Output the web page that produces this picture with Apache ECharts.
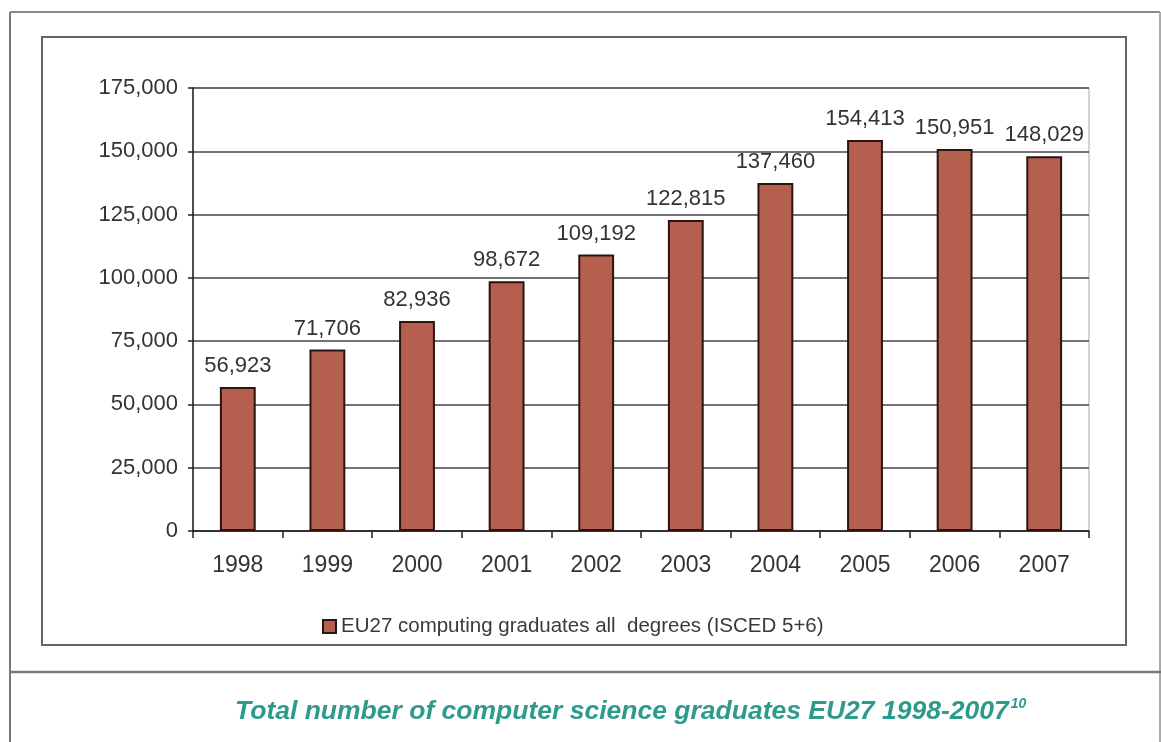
<!DOCTYPE html>
<html>
<head>
<meta charset="utf-8">
<script src="https://cdn.jsdelivr.net/npm/echarts@6/dist/echarts.min.js"></script>
<style>html,body{margin:0;padding:0;background:#fff}#c{width:1161px;height:742px}</style>
</head>
<body>
<div id="c"></div>
<script>
var categories = ['1998','1999','2000','2001','2002','2003','2004','2005','2006','2007'];
var graduates = [56923, 71706, 82936, 98672, 109192, 122815, 137460, 154413, 150951, 148029];
var seriesName = 'EU27 computing graduates all  degrees (ISCED 5+6)';
var captionText = 'Total number of computer science graduates EU27 1998-2007';
var captionNote = '10';

var chart = echarts.init(document.getElementById('c'));
var fmt = function (v) { return String(v).replace(/\B(?=(\d{3})+(?!\d))/g, ','); };
var FF = 'Liberation Sans, Arial, sans-serif';
chart.setOption({
  animation: false,
  backgroundColor: '#fff',
  textStyle: { fontFamily: FF },
  grid: { left: 193, right: 72, top: 88, bottom: 211, show: true, borderColor: '#a8a8a8', borderWidth: 1 },
  legend: {
    left: 317, top: 611, itemWidth: 13, itemHeight: 13, itemGap: 4,
    textStyle: { fontSize: 20.5, color: '#3a3a3a', fontFamily: FF },
    data: [{ name: seriesName, icon: 'rect', itemStyle: { borderColor: '#2a1510', borderWidth: 2 } }]
  },
  xAxis: {
    type: 'category', data: categories,
    axisLine: { lineStyle: { color: '#222', width: 1.5 } },
    axisTick: { show: true, length: 7, alignWithLabel: false, lineStyle: { color: '#222', width: 1.5 } },
    axisLabel: { fontSize: 23, color: '#333', margin: 23 }
  },
  yAxis: {
    type: 'value', min: 0, max: 175000, interval: 25000,
    axisLine: { show: true, lineStyle: { color: '#222', width: 1.5 } },
    axisTick: { show: true, length: 5, lineStyle: { color: '#222', width: 1.5 } },
    axisLabel: { fontSize: 22, color: '#333', margin: 15, formatter: fmt },
    splitLine: { lineStyle: { color: '#444', width: 1.5 } }
  },
  series: [{
    name: seriesName, type: 'bar', data: graduates, barWidth: '40%',
    itemStyle: { color: '#b5604f', borderColor: '#2a1510', borderWidth: 2 },
    label: { show: true, position: 'top', distance: 10, fontSize: 22, color: '#333', formatter: function (p) { return fmt(p.value); } }
  }],
  graphic: [
    { type: 'line', shape: { x1: 10, y1: 12, x2: 10, y2: 742 }, style: { stroke: '#777', lineWidth: 2 } },
    { type: 'line', shape: { x1: 10, y1: 12, x2: 1160, y2: 12 }, style: { stroke: '#888', lineWidth: 2 } },
    { type: 'line', shape: { x1: 1160, y1: 12, x2: 1160, y2: 742 }, style: { stroke: '#aaa', lineWidth: 2 } },
    { type: 'line', shape: { x1: 10, y1: 672, x2: 1161, y2: 672 }, style: { stroke: '#777', lineWidth: 2.5 } },
    { type: 'rect', shape: { x: 42, y: 37, width: 1084, height: 608 }, style: { fill: 'none', stroke: '#666', lineWidth: 2 } },
    {
      type: 'text', left: 235, top: 697,
      style: {
        text: '{m|' + captionText + '}{s|' + captionNote + '}',
        rich: {
          m: { fontSize: 26.5, fontWeight: 'bold', fontStyle: 'italic', fill: '#2e9a8c', fontFamily: FF, verticalAlign: 'bottom' },
          s: { fontSize: 14, fontWeight: 'bold', fontStyle: 'italic', fill: '#2e9a8c', fontFamily: FF, verticalAlign: 'top', padding: [0, 0, 14, 2] }
        }
      }
    }
  ]
});
</script>
</body>
</html>
